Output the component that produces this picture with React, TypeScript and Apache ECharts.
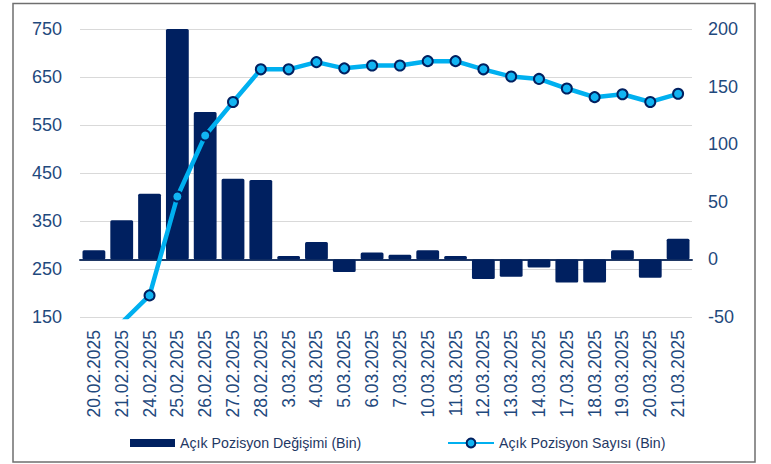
import React, { useEffect, useRef } from "react";
import * as echarts from "echarts";

const categories = [
  "20.02.2025", "21.02.2025", "24.02.2025", "25.02.2025", "26.02.2025", "27.02.2025",
  "28.02.2025", "3.03.2025", "4.03.2025", "5.03.2025", "6.03.2025", "7.03.2025",
  "10.03.2025", "11.03.2025", "12.03.2025", "13.03.2025", "14.03.2025", "17.03.2025",
  "18.03.2025", "19.03.2025", "20.03.2025", "21.03.2025",
];

const changeValues = [
  8, 34, 57, 206, 128, 70, 69, 3, 15, -11, 6, 4, 8, 3, -17, -15, -7, -20, -20, 8, -16, 18,
];

const openInterest = [
  103, 138, 195, 401, 528, 598, 666, 666, 681, 668, 674, 674, 683, 683, 666, 651, 646, 626,
  608, 614, 598, 615,
];

const leftTicks = { min: 150, max: 750, interval: 100 };
const rightTicks = { min: -50, max: 200, interval: 50 };

const BAR_NAME = "Açık Pozisyon Değişimi (Bin)";
const LINE_NAME = "Açık Pozisyon Sayısı (Bin)";

export default function App() {
  const ref = useRef<HTMLDivElement>(null);

  useEffect(() => {
    if (!ref.current) return;
    const chart = echarts.init(ref.current, undefined, { renderer: "svg" });
    const font = "Liberation Sans, Arial, sans-serif";
    const axisColor = "#1F497D";
    chart.setOption({
      animation: false,
      backgroundColor: "#ffffff",
      textStyle: { fontFamily: font },
      grid: { left: 80, right: 79, top: 29, bottom: 147 },
      graphic: [
        {
          type: "rect",
          shape: { x: 13, y: 3.5, width: 742, height: 458.5 },
          style: { fill: "none", stroke: "#6f6f6f", lineWidth: 1.5 },
          silent: true,
          z: 100,
        },
      ],
      legend: [
        {
          data: [{ name: BAR_NAME, icon: "rect" }],
          left: 125,
          top: 431,
          itemWidth: 45,
          itemHeight: 8,
          textStyle: { fontSize: 14.2, color: "#1F3864", fontFamily: font },
        },
        {
          data: [{ name: LINE_NAME }],
          left: 442,
          top: 431,
          itemWidth: 46,
          itemHeight: 11,
          textStyle: { fontSize: 14.2, color: "#1F3864", fontFamily: font },
        },
      ],
      xAxis: {
        type: "category",
        data: categories,
        axisLine: { lineStyle: { color: "#1F3864", width: 2 } },
        axisTick: { show: false },
        axisLabel: {
          rotate: 90,
          interval: 0,
          margin: 13,
          fontSize: 17.5,
          color: axisColor,
          fontFamily: font,
        },
      },
      yAxis: [
        {
          type: "value",
          position: "left",
          min: leftTicks.min,
          max: leftTicks.max,
          interval: leftTicks.interval,
          axisLine: { show: false },
          axisTick: { show: false },
          axisLabel: { fontSize: 18, color: axisColor, margin: 18, fontFamily: font },
          splitLine: { lineStyle: { color: "#d9d9d9", width: 1.2 } },
        },
        {
          type: "value",
          position: "right",
          min: rightTicks.min,
          max: rightTicks.max,
          interval: rightTicks.interval,
          axisLine: { show: false },
          axisTick: { show: false },
          axisLabel: { fontSize: 18, color: axisColor, margin: 16, fontFamily: font },
          splitLine: { show: false },
        },
      ],
      series: [
        {
          name: BAR_NAME,
          type: "bar",
          yAxisIndex: 1,
          data: changeValues,
          barWidth: "82%",
          clip: true,
          itemStyle: { color: "#002060", borderRadius: 1.5 },
          z: 2,
        },
        {
          name: LINE_NAME,
          type: "line",
          yAxisIndex: 0,
          data: openInterest,
          clip: true,
          symbol: "circle",
          symbolSize: 10,
          lineStyle: { color: "#00B0F0", width: 4.5 },
          itemStyle: { color: "#12B4F2", borderColor: "#002060", borderWidth: 2 },
          z: 3,
        },
      ],
    });
    return () => chart.dispose();
  }, []);

  return (
    <div
      ref={ref}
      style={{ position: "absolute", left: 0, top: 0, width: 771, height: 464 }}
    />
  );
}
